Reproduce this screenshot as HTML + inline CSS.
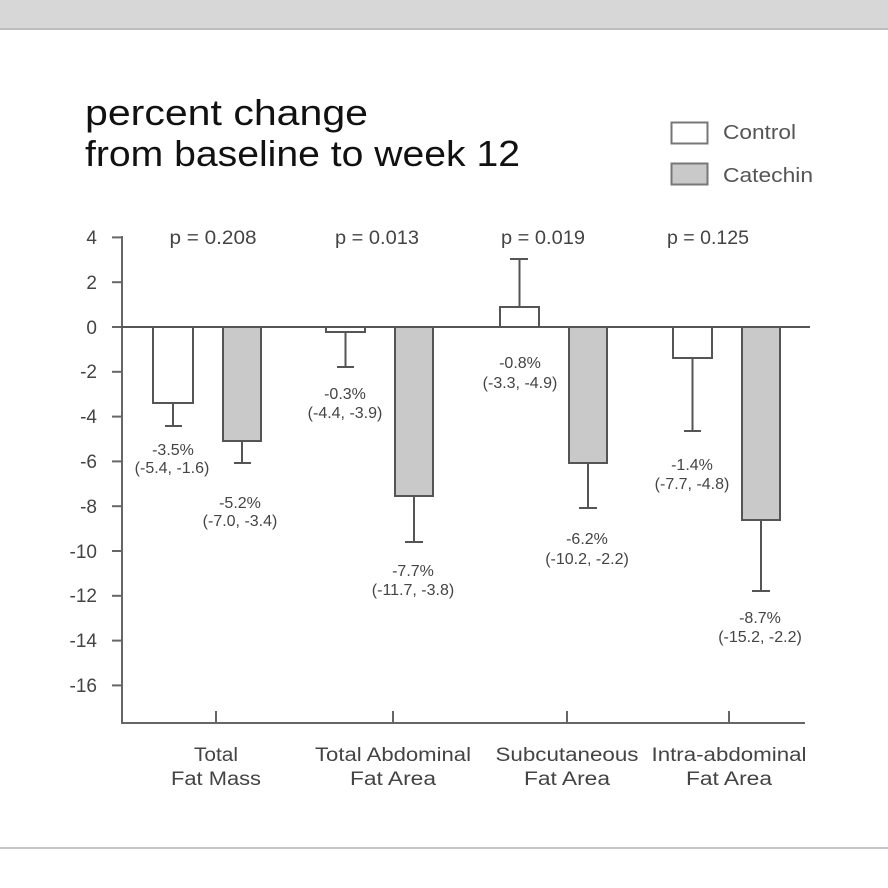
<!DOCTYPE html>
<html>
<head>
<meta charset="utf-8">
<style>
html,body{margin:0;padding:0;background:#fff;}
svg{display:block;}
text{font-family:"Liberation Sans",sans-serif;}
</style>
</head>
<body>
<svg width="888" height="888" viewBox="0 0 888 888" xmlns="http://www.w3.org/2000/svg">
  <rect x="0" y="0" width="888" height="888" fill="#ffffff"/>
  <!-- top band -->
  <rect x="0" y="0" width="888" height="29" fill="#d7d7d7"/>
  <rect x="0" y="28" width="888" height="2" fill="#bdbdbd"/>
  <!-- bottom line -->
  <rect x="0" y="847" width="888" height="2" fill="#c6c6c6"/>

  <!-- title -->
  <text x="85" y="125" font-size="36" fill="#111" textLength="283" lengthAdjust="spacingAndGlyphs">percent change</text>
  <text x="85" y="166" font-size="36" fill="#111" textLength="435" lengthAdjust="spacingAndGlyphs">from baseline to week 12</text>

  <!-- legend -->
  <rect x="671.5" y="122.5" width="36" height="21" fill="#fff" stroke="#777" stroke-width="2"/>
  <text x="723" y="139" font-size="20" fill="#555" textLength="73" lengthAdjust="spacingAndGlyphs">Control</text>
  <rect x="671.5" y="163.5" width="36" height="21" fill="#c9c9c9" stroke="#777" stroke-width="2"/>
  <text x="723" y="182" font-size="20" fill="#555" textLength="90" lengthAdjust="spacingAndGlyphs">Catechin</text>

  <!-- y axis -->
  <g stroke="#666" stroke-width="2" fill="none">
    <line x1="122" y1="236" x2="122" y2="724"/>
    <line x1="121" y1="723" x2="805" y2="723"/>
    <line x1="112" y1="237.4" x2="122" y2="237.4"/>
    <line x1="112" y1="282.2" x2="122" y2="282.2"/>
    <line x1="112" y1="327" x2="122" y2="327"/>
    <line x1="112" y1="371.8" x2="122" y2="371.8"/>
    <line x1="112" y1="416.6" x2="122" y2="416.6"/>
    <line x1="112" y1="461.4" x2="122" y2="461.4"/>
    <line x1="112" y1="506.2" x2="122" y2="506.2"/>
    <line x1="112" y1="551" x2="122" y2="551"/>
    <line x1="112" y1="595.8" x2="122" y2="595.8"/>
    <line x1="112" y1="640.6" x2="122" y2="640.6"/>
    <line x1="112" y1="685.4" x2="122" y2="685.4"/>
    <!-- category ticks -->
    <line x1="216" y1="711" x2="216" y2="723"/>
    <line x1="393" y1="711" x2="393" y2="723"/>
    <line x1="567" y1="711" x2="567" y2="723"/>
    <line x1="729" y1="711" x2="729" y2="723"/>
  </g>
  <g font-size="19" fill="#444" text-anchor="end">
    <text x="97" y="244">4</text>
    <text x="97" y="289">2</text>
    <text x="97" y="334">0</text>
    <text x="97" y="378">-2</text>
    <text x="97" y="423">-4</text>
    <text x="97" y="468">-6</text>
    <text x="97" y="513">-8</text>
    <text x="97" y="558">-10</text>
    <text x="97" y="602">-12</text>
    <text x="97" y="647">-14</text>
    <text x="97" y="692">-16</text>
  </g>

  <!-- error bars -->
  <g stroke="#555" stroke-width="2" fill="none">
    <line x1="173" y1="403" x2="173" y2="426"/><line x1="165" y1="426" x2="182" y2="426"/>
    <line x1="242" y1="441" x2="242" y2="463"/><line x1="234" y1="463" x2="251" y2="463"/>
    <line x1="345.5" y1="332" x2="345.5" y2="367"/><line x1="337" y1="367" x2="354" y2="367"/>
    <line x1="414" y1="496" x2="414" y2="542"/><line x1="405" y1="542" x2="423" y2="542"/>
    <line x1="519.5" y1="307" x2="519.5" y2="259"/><line x1="510" y1="259" x2="528" y2="259"/>
    <line x1="588" y1="463" x2="588" y2="508"/><line x1="579" y1="508" x2="597" y2="508"/>
    <line x1="692.5" y1="358" x2="692.5" y2="431"/><line x1="684" y1="431" x2="701" y2="431"/>
    <line x1="761" y1="520" x2="761" y2="591"/><line x1="752" y1="591" x2="770" y2="591"/>
  </g>

  <!-- bars -->
  <g stroke="#555" stroke-width="2">
    <rect x="153" y="327" width="40" height="76" fill="#fff"/>
    <rect x="223" y="327" width="38" height="114" fill="#c9c9c9"/>
    <rect x="326" y="327" width="39" height="5" fill="#fff"/>
    <rect x="395" y="327" width="38" height="169" fill="#c9c9c9"/>
    <rect x="500" y="307" width="39" height="20" fill="#fff"/>
    <rect x="569" y="327" width="38" height="136" fill="#c9c9c9"/>
    <rect x="673" y="327" width="39" height="31" fill="#fff"/>
    <rect x="742" y="327" width="38" height="193" fill="#c9c9c9"/>
  </g>

  <!-- zero line -->
  <line x1="121" y1="327" x2="810" y2="327" stroke="#555" stroke-width="2"/>

  <!-- p values -->
  <g font-size="19" fill="#444" text-anchor="middle">
    <text x="213" y="244" textLength="87" lengthAdjust="spacingAndGlyphs">p = 0.208</text>
    <text x="377" y="244" textLength="84" lengthAdjust="spacingAndGlyphs">p = 0.013</text>
    <text x="543" y="244" textLength="84" lengthAdjust="spacingAndGlyphs">p = 0.019</text>
    <text x="708" y="244" textLength="82" lengthAdjust="spacingAndGlyphs">p = 0.125</text>
  </g>

  <!-- value labels -->
  <g font-size="16" fill="#444" text-anchor="middle">
    <text x="173" y="455">-3.5%</text>
    <text x="172" y="473">(-5.4, -1.6)</text>
    <text x="240" y="508">-5.2%</text>
    <text x="240" y="526">(-7.0, -3.4)</text>
    <text x="345" y="399">-0.3%</text>
    <text x="345" y="418">(-4.4, -3.9)</text>
    <text x="413" y="576">-7.7%</text>
    <text x="413" y="595">(-11.7, -3.8)</text>
    <text x="520" y="368">-0.8%</text>
    <text x="520" y="388">(-3.3, -4.9)</text>
    <text x="587" y="544">-6.2%</text>
    <text x="587" y="564">(-10.2, -2.2)</text>
    <text x="692" y="470">-1.4%</text>
    <text x="692" y="489">(-7.7, -4.8)</text>
    <text x="760" y="623">-8.7%</text>
    <text x="760" y="642">(-15.2, -2.2)</text>
  </g>

  <!-- category labels -->
  <g font-size="19" fill="#444" text-anchor="middle">
    <text x="216" y="761" textLength="44" lengthAdjust="spacingAndGlyphs">Total</text>
    <text x="216" y="785" textLength="90" lengthAdjust="spacingAndGlyphs">Fat Mass</text>
    <text x="393" y="761" textLength="156" lengthAdjust="spacingAndGlyphs">Total Abdominal</text>
    <text x="393" y="785" textLength="86" lengthAdjust="spacingAndGlyphs">Fat Area</text>
    <text x="567" y="761" textLength="143" lengthAdjust="spacingAndGlyphs">Subcutaneous</text>
    <text x="567" y="785" textLength="86" lengthAdjust="spacingAndGlyphs">Fat Area</text>
    <text x="729" y="761" textLength="155" lengthAdjust="spacingAndGlyphs">Intra-abdominal</text>
    <text x="729" y="785" textLength="86" lengthAdjust="spacingAndGlyphs">Fat Area</text>
  </g>
</svg>
</body>
</html>
